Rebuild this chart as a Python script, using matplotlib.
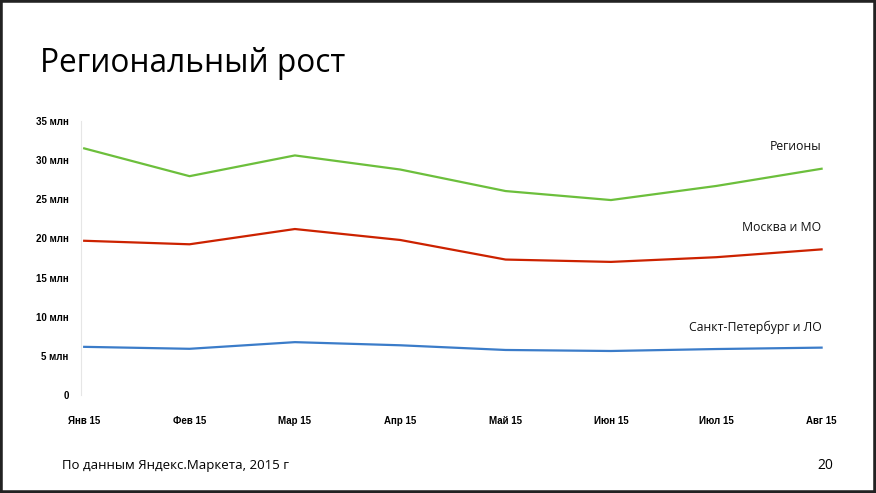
import matplotlib
matplotlib.use("Agg")
import matplotlib.pyplot as plt
from matplotlib.patches import Rectangle

months = ["Янв 15", "Фев 15", "Мар 15", "Апр 15", "Май 15", "Июн 15", "Июл 15", "Авг 15"]
regions = [31.5, 27.95, 30.6, 28.8, 26.05, 24.9, 26.7, 28.9]
moscow = [19.7, 19.25, 21.2, 19.8, 17.3, 17.0, 17.6, 18.6]
spb = [6.15, 5.9, 6.75, 6.35, 5.75, 5.62, 5.87, 6.05]
yticks = [0, 5, 10, 15, 20, 25, 30, 35]
ytick_labels = ["0", "5 млн", "10 млн", "15 млн", "20 млн", "25 млн", "30 млн", "35 млн"]

fig = plt.figure(figsize=(8.76, 4.93), dpi=100)
ax = fig.add_axes([0.0925, 0.1988, 0.849, 0.5558])

x = range(len(months))
ax.plot(x, regions, color="#6cbf3c", lw=1.6)
ax.plot(x, moscow, color="#cc2200", lw=1.6)
ax.plot(x, spb, color="#3b7cc9", lw=1.6)

ax.set_xlim(-0.03, 7.03)
ax.set_ylim(0, 35)
ax.set_xticks(list(x))
ax.set_xticklabels(months, fontsize=7, fontweight="bold", family="Liberation Sans")
ax.set_yticks(yticks)
ax.set_yticklabels(ytick_labels, fontsize=7, fontweight="bold", family="Liberation Sans")
ax.tick_params(axis="x", length=0, pad=15)
ax.tick_params(axis="y", length=0, pad=9)
for s in ["top", "right", "bottom"]:
    ax.spines[s].set_visible(False)
ax.spines["left"].set_color("#e6e6e6")
ax.spines["left"].set_linewidth(0.8)

# подписи рядов
lab = dict(fontsize=8.8, family="Open Sans", ha="right", va="center", color="#111111")
ax.text(7.0, 31.8, "Регионы", **lab)
ax.text(7.0, 21.45, "Москва и МО", **lab)
ax.text(7.0, 8.7, "Санкт-Петербург и ЛО", **lab)

fig.text(0.046, 0.872, "Региональный рост", fontsize=22.8, family="Open Sans", va="center")
fig.text(0.071, 0.055, "По данным Яндекс.Маркета, 2015 г", fontsize=9.5, family="Open Sans", va="center")
fig.text(0.942, 0.055, "20", fontsize=10, family="Open Sans", ha="center", va="center")

fig.patches.append(Rectangle((0, 0), 1, 1, transform=fig.transFigure, fill=False,
                             edgecolor="#222222", lw=4, zorder=10))

fig.savefig("out.png", dpi=100)
